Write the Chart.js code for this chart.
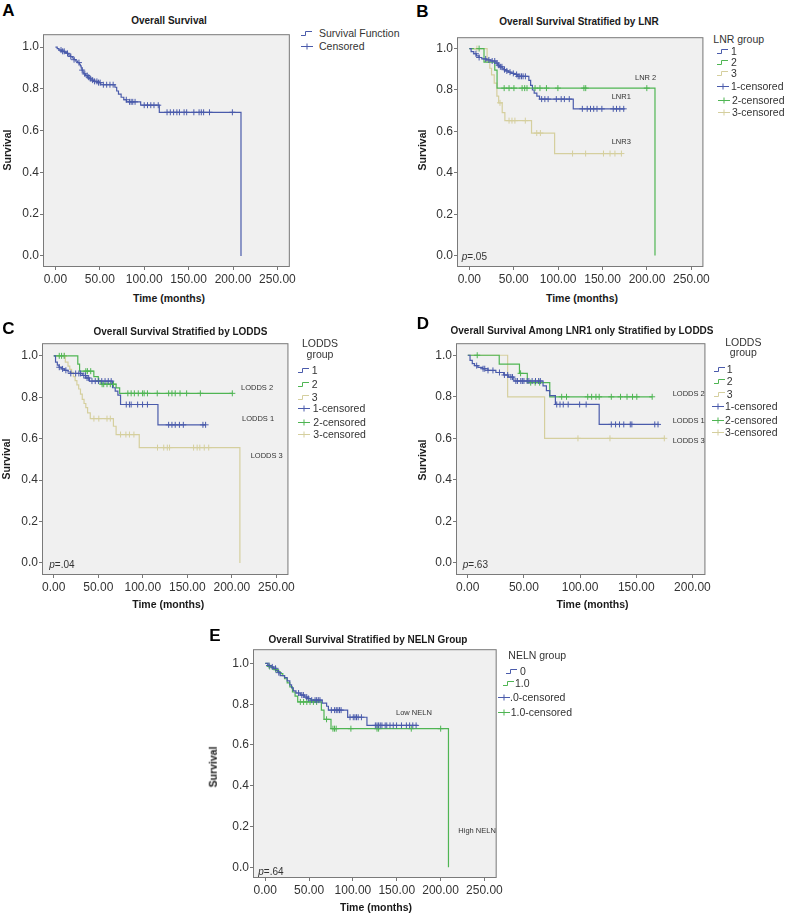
<!DOCTYPE html>
<html><head><meta charset="utf-8">
<script src="https://cdn.jsdelivr.net/npm/chart.js@4.4.1/dist/chart.umd.min.js"></script>
<style>
html,body{margin:0;padding:0;background:#fff}
body{width:785px;height:915px;position:relative;overflow:hidden;font-family:"Liberation Sans",Arial,sans-serif;color:#222}
.tx{position:absolute;white-space:nowrap;line-height:1}
.wrap{position:absolute}
svg.ic{position:absolute;overflow:visible}
</style></head><body>
<script>
// ---------------- DATA ----------------
const xTicks250 = [0, 50, 100, 150, 200, 250];
const xTicks200 = [0, 50, 100, 150, 200];
const yTicks = [0, 0.2, 0.4, 0.6, 0.8, 1.0];

// Panel A: overall survival
const A_times = [2,4,7,10,13,15,17,19,21,23,25,27,28,29,30,31,32,34,36,38,40,43,47,51,67,69,71,74,77,80,96,117,209];
const A_surv  = [0.993,0.986,0.98,0.975,0.97,0.962,0.955,0.948,0.94,0.933,0.926,0.918,0.91,0.90,0.89,0.88,0.872,0.864,0.856,0.849,0.842,0.836,0.83,0.82,0.808,0.79,0.775,0.76,0.748,0.738,0.722,0.688,0];
const A_end = 209;
const A_cens = [6.3,8.1,9.9,13.6,17.3,21,26.5,30.1,33.1,35.7,37.5,39.3,41.9,44.1,46.7,48.5,50.4,54,57.7,61.4,65,79.8,83.5,85.3,87.1,89.7,100,103.7,107.4,111,115.8,125.7,129.4,133.1,136.8,139.7,144.9,147.8,155.9,161.8,164.3,166.9,173.5,199.3];

// Panel B: LNR groups
const B1_times = [2,5,8,11,14,19,24,30,32,34,37,39,41,44,47,50,54,67,69,71,73,76,79,117];
const B1_surv  = [0.985,0.975,0.965,0.957,0.95,0.945,0.94,0.93,0.92,0.912,0.905,0.898,0.892,0.886,0.88,0.875,0.866,0.846,0.822,0.80,0.785,0.77,0.756,0.709];
const B1_end = 175;
const B1_cens = [7.4,11,18.4,22,25.7,28.6,31.2,33,34.9,36.7,39.6,42.2,45.8,49.5,53.2,55,56.8,58.7,60.5,63.1,81.4,85,88.7,97.9,103.4,107,112.5,127.2,132.7,136.4,140,143.7,149.2,162,165.7,169.4,173.8];
const B2_times = [16.5,28.6,31.2,209];
const B2_surv  = [0.935,0.896,0.809,0];
const B2_end = 209;
const B2_cens = [11,39.2,44.7,50.2,59.4,62.3,64.9,74,79.5,86.8,99.7,129,131,199.8];
const B3_times = [20,23,25,28,31,33,37,40,70,96];
const B3_surv  = [0.935,0.905,0.873,0.833,0.77,0.738,0.691,0.652,0.592,0.493];
const B3_end = 171.2;
const B3_cens = [8.5,34.5,44.7,48,51.3,63,75.9,80,116.2,130.9,151,158.4,163.9,171.2];

// Panel C: LODDS groups
const C1_times = [2,4,6,9,12,16,19,32,36,40,66,69,72,75,117];
const C1_surv  = [0.97,0.955,0.945,0.937,0.93,0.922,0.915,0.905,0.893,0.878,0.846,0.83,0.81,0.765,0.667];
const C1_end = 171;
const C1_cens = [6.2,9.9,13.6,19.1,24.6,28.2,30.1,33.7,35.6,37.4,39.2,42.9,46.6,50.2,53.9,57.6,61.2,64.5,81.4,85,86.9,94.2,99.7,105.2,129,132.7,136.4,141.1,145.5,167.5,170.5];
const C2_times = [27,29,45,50,53,70,74];
const C2_surv  = [0.96,0.926,0.90,0.88,0.863,0.845,0.819];
const C2_end = 200.5;
const C2_cens = [6.2,8.8,11.7,36,37.8,41.5,50.6,54.3,56.1,59.8,63.5,67.1,83.2,86.9,90.5,94.9,99.7,101.5,105.2,116.2,129,132.7,136.4,141.8,149.2,164.6,200.5];
const C3_times = [13,16,18,20,22,24,26,28,30,32,34,36,38,41,67,70,96,209];
const C3_surv  = [0.97,0.95,0.935,0.92,0.90,0.88,0.86,0.84,0.815,0.79,0.77,0.75,0.725,0.697,0.66,0.62,0.557,0];
const C3_end = 209;
const C3_cens = [12,45.1,50.6,59.8,63.5,75,81,85,90,116.5,123.5,127.5,130,157,161,164,169,174];

// Panel D: LNR1 only, LODDS groups
const D1_times = [2,4,6,9,13,18,25,32,36,41,67,70,73,78,117];
const D1_surv  = [0.975,0.96,0.95,0.942,0.935,0.927,0.917,0.905,0.895,0.876,0.853,0.83,0.806,0.763,0.667];
const D1_end = 170;
const D1_cens = [7.9,13.6,15.1,18,22.4,28.2,32.6,35.5,38.4,39.8,42.8,44.2,47.2,48.6,50,52.9,54.4,57.3,60.3,63.1,64.6,79.2,82.1,85,89.4,99.6,105.4,127.8,131.6,135.1,138.9,144.7,146.1,166.5,169.4];
const D2_times = [28,46,53,73];
const D2_surv  = [0.957,0.913,0.868,0.80];
const D2_end = 164.2;
const D2_cens = [8.4,47,56,60,64,83.6,87.9,106.8,110.3,114.1,117,127.8,136,141.8,146.7,150.5,164.2];
const D3_times = [35.5,68.4];
const D3_surv  = [0.80,0.60];
const D3_end = 175;
const D3_cens = [98.1,126.6,175];

// Panel E: NELN groups
const E0_times = [3,6,9,12,15,17,22,25,28,30,32,35,40,45,48,52,65,70,72,94,116];
const E0_surv  = [0.99,0.983,0.976,0.965,0.955,0.94,0.93,0.915,0.895,0.88,0.865,0.855,0.845,0.835,0.828,0.82,0.805,0.79,0.771,0.736,0.696];
const E0_end = 174;
const E0_cens = [4.3,8,11.7,15.4,38,41.7,43.5,47.3,49.2,53,56.8,58.6,60.5,62.4,75.4,79.1,81,82.8,84.7,86.5,96.7,100.4,102.3,104.1,106,109.7,125.6,127.5,129.3,131.2,133.1,136.8,138.6,142.3,146,149.8,155.4,161,164.7,168.3,172.1];
const E1_times = [3,7,10,14,17,20,22,25,28,31,34,37,64,67,75,209];
const E1_surv  = [0.985,0.978,0.97,0.96,0.95,0.94,0.925,0.905,0.885,0.86,0.84,0.811,0.771,0.726,0.68,0];
const E1_end = 209;
const E1_cens = [5,12,40,43.7,47.4,51.1,54.9,58.6,69.9,77.2,79,80.9,97.7,127.5,129.3,166.6,200.1];

// ---------------- STYLE ----------------
const FONT = '"Liberation Sans", Arial, sans-serif';
const BLUE = '#4a5bab', GREEN = '#4fb553', TAN = '#d5cf9e';

function stepData(times, surv, end){
  const d = [{x:0, y:1}];
  times.forEach((t,i)=>d.push({x:t, y:surv[i]}));
  const last = d[d.length-1];
  if (end > last.x) d.push({x:end, y:last.y});
  return d;
}
function censData(times, surv, cens){
  return cens.map(c=>{ let v = 1; times.forEach((t,i)=>{ if (t <= c) v = surv[i]; }); return {x:c, y:v}; });
}

const framePlugin = {
  id:'frame',
  beforeDatasetsDraw(c){ const a=c.chartArea, ctx=c.ctx; ctx.save(); ctx.fillStyle='#f0f0f0'; ctx.fillRect(a.left,a.top,a.right-a.left,a.bottom-a.top); ctx.restore(); },
  afterDraw(c){ const a=c.chartArea, ctx=c.ctx; ctx.save(); ctx.strokeStyle='#7a7a7a'; ctx.lineWidth=1; ctx.strokeRect(a.left+0.5,a.top+0.5,a.right-a.left-1,a.bottom-a.top-1); ctx.restore(); }
};

function makePanel(frame, xMin, xMax, xTicks, yMin, yMax, groups){
  const padL=40, padT=3, padR=3, axH=24;
  const w = frame.R-frame.L+padL+padR, h = frame.B-frame.T+padT+axH;
  const wrap = document.createElement('div'); wrap.className='wrap';
  wrap.style.left=(frame.L-padL)+'px'; wrap.style.top=(frame.T-padT)+'px';
  wrap.style.width=w+'px'; wrap.style.height=h+'px';
  const cv = document.createElement('canvas'); cv.width=w; cv.height=h;
  cv.style.width=w+'px'; cv.style.height=h+'px';
  wrap.appendChild(cv); document.body.appendChild(wrap);
  const datasets=[];
  groups.forEach(g=>{
    datasets.push({type:'scatter', data:censData(g.times,g.surv,g.cens), borderColor:g.color, backgroundColor:g.color,
      pointStyle:'cross', pointRadius:3, borderWidth:1, showLine:false});
  });
  groups.forEach(g=>{
    datasets.push({type:'line', data:stepData(g.times,g.surv,g.end), borderColor:g.color, borderWidth:1.2,
      stepped:'before', pointRadius:0, fill:false});
  });
  const tickFont = {size:12, family:FONT};
  new Chart(cv, {
    type:'scatter', data:{datasets},
    options:{
      responsive:false, animation:false, devicePixelRatio:1,
      layout:{padding:{left:0, top:padT, right:padR, bottom:0}},
      plugins:{legend:{display:false}, tooltip:{enabled:false}},
      scales:{
        x:{type:'linear', min:xMin, max:xMax,
           afterBuildTicks:s=>{ s.ticks = xTicks.map(v=>({value:v})); },
           afterFit:s=>{ s.height = axH; },
           ticks:{callback:v=>Number(v).toFixed(2), font:tickFont, color:'#333', padding:2, maxRotation:0, autoSkip:false},
           grid:{drawOnChartArea:false, drawTicks:true, tickLength:3, color:'#777'}, border:{display:false}},
        y:{type:'linear', min:yMin, max:yMax,
           afterBuildTicks:s=>{ s.ticks = yTicks.map(v=>({value:v})); },
           afterFit:s=>{ s.width = padL; },
           ticks:{callback:v=>Number(v).toFixed(1), font:tickFont, color:'#333', padding:1, autoSkip:false},
           grid:{drawOnChartArea:false, drawTicks:true, tickLength:3, color:'#777'}, border:{display:false}}
      }
    },
    plugins:[framePlugin]
  });
}

makePanel({L:43,T:29,R:295,B:267}, -14, 264, xTicks250, -0.053, 1.062,
  [{times:A_times, surv:A_surv, end:A_end, cens:A_cens, color:BLUE}]);
makePanel({L:457,T:32,R:709,B:267}, -13.9, 263.5, xTicks250, -0.055, 1.055,
  [{times:B1_times, surv:B1_surv, end:B1_end, cens:B1_cens, color:BLUE},
   {times:B2_times, surv:B2_surv, end:B2_end, cens:B2_cens, color:GREEN},
   {times:B3_times, surv:B3_surv, end:B3_end, cens:B3_cens, color:TAN}]);
makePanel({L:42,T:338,R:294,B:575}, -13.2, 263.5, xTicks250, -0.058, 1.061,
  [{times:C1_times, surv:C1_surv, end:C1_end, cens:C1_cens, color:BLUE},
   {times:C2_times, surv:C2_surv, end:C2_end, cens:C2_cens, color:GREEN},
   {times:C3_times, surv:C3_surv, end:C3_end, cens:C3_cens, color:TAN}]);
makePanel({L:456,T:338,R:710,B:575}, -10.5, 211.6, xTicks200, -0.058, 1.058,
  [{times:D1_times, surv:D1_surv, end:D1_end, cens:D1_cens, color:BLUE},
   {times:D2_times, surv:D2_surv, end:D2_end, cens:D2_cens, color:GREEN},
   {times:D3_times, surv:D3_surv, end:D3_end, cens:D3_cens, color:TAN}]);
makePanel({L:253,T:644,R:502,B:878}, -14, 264, xTicks250, -0.053, 1.07,
  [{times:E0_times, surv:E0_surv, end:E0_end, cens:E0_cens, color:BLUE},
   {times:E1_times, surv:E1_surv, end:E1_end, cens:E1_cens, color:GREEN}]);

// ---------------- TEXT ----------------
function txt(x, y, s, css, align){
  const d = document.createElement('div'); d.className='tx'; d.innerHTML = s;
  d.style.left = x+'px'; d.style.top = y+'px';
  let tr = 'translate(-50%,-50%)';
  if (align==='l') tr = 'translate(0,-50%)';
  if (align==='rot') tr = 'translate(-50%,-50%) rotate(-90deg)';
  d.style.transform = tr;
  d.style.cssText += css;
  document.body.appendChild(d);
}
const letterCss = 'font-weight:bold;font-size:17px;color:#000;';
const titleCss = 'font-weight:bold;font-size:10px;color:#1a1a1a;';
const axCss = 'font-weight:bold;font-size:10.5px;color:#1a1a1a;';
const legCss = 'font-size:10.5px;color:#333;';
const pCss = 'font-size:10px;color:#333;';
const lblCss = 'font-size:7.5px;color:#333;';

txt(8.5,10,'A',letterCss); txt(422.5,11,'B',letterCss); txt(8.5,327.5,'C',letterCss);
txt(423,322.5,'D',letterCss); txt(215,635,'E',letterCss);

txt(169,21,'Overall Survival',titleCss);
txt(579,22,'Overall Survival Stratified by LNR',titleCss);
txt(180.5,331.5,'Overall Survival Stratified by LODDS',titleCss);
txt(582,331,'Overall Survival Among LNR1 only Stratified by LODDS',titleCss);
txt(368,640,'Overall Survival Stratified by NELN Group',titleCss);

txt(6.5,150,'Survival',axCss,'rot'); txt(421.7,150,'Survival',axCss,'rot');
txt(5.5,459,'Survival',axCss,'rot'); txt(421.7,460,'Survival',axCss,'rot');
txt(213,767,'Survival',axCss,'rot');

txt(169,298,'Time (months)',axCss); txt(582,298,'Time (months)',axCss);
txt(168.3,604,'Time (months)',axCss); txt(592.5,604,'Time (months)',axCss);
txt(376,907,'Time (months)',axCss);

txt(461.7,257,'<i>p</i>=.05',pCss,'l'); txt(49.3,565,'<i>p</i>=.04',pCss,'l');
txt(462.7,565,'<i>p</i>=.63',pCss,'l'); txt(258.3,871.7,'<i>p</i>=.64',pCss,'l');

txt(635,77.7,'LNR 2',lblCss,'l'); txt(611.7,97.3,'LNR1',lblCss,'l'); txt(611.7,141.7,'LNR3',lblCss,'l');
txt(241,387.7,'LODDS 2',lblCss,'l'); txt(242,419.3,'LODDS 1',lblCss,'l'); txt(250.7,455.7,'LODDS 3',lblCss,'l');
txt(672.7,394,'LODDS 2',lblCss,'l'); txt(672.7,420.7,'LODDS 1',lblCss,'l'); txt(672.7,440.7,'LODDS 3',lblCss,'l');
txt(396,713.3,'Low NELN',lblCss,'l'); txt(458.3,830.7,'High NELN',lblCss,'l');

// legend icons
function icon(x, y, kind, color){
  const ns='http://www.w3.org/2000/svg';
  const s=document.createElementNS(ns,'svg'); s.setAttribute('class','ic');
  s.setAttribute('width','14'); s.setAttribute('height','10');
  s.style.left=x+'px'; s.style.top=(y-5)+'px';
  const p=document.createElementNS(ns,'path');
  p.setAttribute('d', kind==='step' ? 'M1 7.5 H5.5 V3.5 H12' : 'M1 5.5 H13 M7 2.5 V8.5');
  p.setAttribute('stroke',color); p.setAttribute('stroke-width','1'); p.setAttribute('fill','none');
  s.appendChild(p); document.body.appendChild(s);
}
function leg(ix, tx, y, kind, color, label){ icon(ix, y, kind, color); txt(tx, y, label, legCss, 'l'); }

leg(300,319,33,'step',BLUE,'Survival Function'); leg(300,319,46,'cross',BLUE,'Censored');

txt(713.3,39,'LNR group',legCss,'l');
leg(716,731,50.7,'step',BLUE,'1'); leg(716,731,61.7,'step',GREEN,'2'); leg(716,731,73.3,'step',TAN,'3');
leg(716,731,85.7,'cross',BLUE,'1-censored'); leg(717,732,100,'cross',GREEN,'2-censored'); leg(717,732,111.7,'cross',TAN,'3-censored');

txt(320,342.7,'LODDS',legCss); txt(320,354,'group',legCss);
leg(297,311.7,370,'step',BLUE,'1'); leg(297,311.7,384.3,'step',GREEN,'2'); leg(297,311.7,396.7,'step',TAN,'3');
leg(297,312.7,408.3,'cross',BLUE,'1-censored'); leg(297,313.3,422.3,'cross',GREEN,'2-censored'); leg(297,313.3,434.3,'cross',TAN,'3-censored');

txt(743.3,341.7,'LODDS',legCss); txt(743.3,351.7,'group',legCss);
leg(713,726.7,369,'step',BLUE,'1'); leg(713,726.7,381,'step',GREEN,'2'); leg(713,726.7,394,'step',TAN,'3');
leg(711,725,406,'cross',BLUE,'1-censored'); leg(711,725,420,'cross',GREEN,'2-censored'); leg(711,725,431.7,'cross',TAN,'3-censored');

txt(508.3,655,'NELN group',legCss,'l');
leg(505,520,670.7,'step',BLUE,'0'); leg(502,515,683.3,'step',GREEN,'1.0');
leg(497,510,697.3,'cross',BLUE,'.0-censored'); leg(497,510.7,712.3,'cross',GREEN,'1.0-censored');
</script>
</body></html>
